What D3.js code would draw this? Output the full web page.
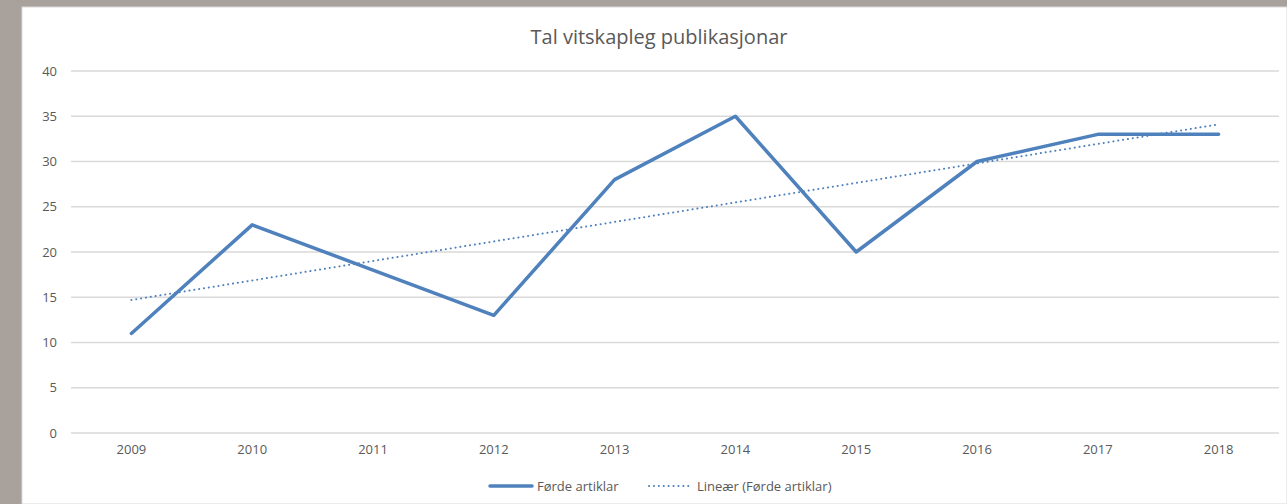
<!DOCTYPE html>
<html>
<head>
<meta charset="utf-8">
<script src="https://cdn.jsdelivr.net/npm/d3@7"></script>
<style>
  html, body { margin: 0; padding: 0; background: #a9a19c; }
  #chart { position: absolute; left: 0; top: 0; }
</style>
</head>
<body>
<div id="chart"></div>
<script>
const years = ["2009", "2010", "2011", "2012", "2013", "2014", "2015", "2016", "2017", "2018"];
const articles = [11, 23, 18, 13, 28, 35, 20, 30, 33, 33];
// trend line end values
const trendYears = ["2009", "2018"];
const trendValues = [14.7, 34.1];
const yTicks = [0, 5, 10, 15, 20, 25, 30, 35, 40];

const width = 1287, height = 504;
const margin = {top: 71, right: 8, bottom: 71, left: 71};
const innerWidth = width - margin.left - margin.right;
const innerHeight = height - margin.top - margin.bottom;
const blue = "#4f81bd";
const font = "'Open Sans', 'Liberation Sans', sans-serif";

const svg = d3.select("#chart").append("svg")
    .attr("width", width)
    .attr("height", height);

// white chart area inside the grey frame
svg.append("rect")
    .attr("x", 22).attr("y", 7)
    .attr("width", width - 22).attr("height", height - 7)
    .attr("fill", "#fff")
    .attr("stroke", "#d9d9d9");

const g = svg.append("g")
    .attr("transform", `translate(${margin.left},${margin.top})`);

const x = d3.scaleBand()
    .domain(years)
    .range([0, innerWidth]);

const y = d3.scaleLinear()
    .domain([0, 40])
    .range([innerHeight, 0]);

const cx = d => x(d) + x.bandwidth() / 2;

// gridlines
g.append("g")
    .selectAll("line")
    .data(yTicks)
    .join("line")
    .attr("x1", 0)
    .attr("x2", innerWidth)
    .attr("y1", d => y(d))
    .attr("y2", d => y(d))
    .attr("stroke", "#d9d9d9")
    .attr("stroke-width", 1.3);

const styleTicks = s => s.selectAll("text")
    .attr("font-family", font)
    .attr("font-size", 13)
    .attr("fill", "#595959");

const yAxis = d3.axisLeft(y).tickValues(yTicks).tickSize(0).tickPadding(14);
g.append("g")
    .call(yAxis)
    .call(s => s.select(".domain").remove())
    .call(styleTicks);

const xAxis = d3.axisBottom(x).tickSize(0).tickPadding(12);
g.append("g")
    .attr("transform", `translate(0,${innerHeight})`)
    .call(xAxis)
    .call(s => s.select(".domain").remove())
    .call(styleTicks);

// trend line
g.append("path")
    .datum(trendYears.map((d, i) => [d, trendValues[i]]))
    .attr("fill", "none")
    .attr("stroke", blue)
    .attr("stroke-width", 2)
    .attr("stroke-linecap", "round")
    .attr("stroke-dasharray", "0.1 4.8")
    .attr("d", d3.line().x(d => cx(d[0])).y(d => y(d[1])));

// main line
g.append("path")
    .datum(years.map((d, i) => [d, articles[i]]))
    .attr("fill", "none")
    .attr("stroke", blue)
    .attr("stroke-width", 3.5)
    .attr("stroke-linejoin", "round")
    .attr("stroke-linecap", "round")
    .attr("d", d3.line().x(d => cx(d[0])).y(d => y(d[1])));

// title
svg.append("text")
    .attr("x", 659)
    .attr("y", 44)
    .attr("text-anchor", "middle")
    .attr("font-family", font)
    .attr("font-size", 20)
    .attr("fill", "#595959")
    .text("Tal vitskapleg publikasjonar");

// legend
const legend = svg.append("g").attr("transform", "translate(0,486)");
legend.append("line")
    .attr("x1", 490).attr("x2", 532)
    .attr("stroke", blue).attr("stroke-width", 3.5).attr("stroke-linecap", "round");
legend.append("text")
    .attr("x", 537).attr("y", 5)
    .attr("font-family", font).attr("font-size", 13).attr("fill", "#595959")
    .text("Førde artiklar");
legend.append("line")
    .attr("x1", 649).attr("x2", 690)
    .attr("stroke", blue).attr("stroke-width", 2).attr("stroke-linecap", "round")
    .attr("stroke-dasharray", "0.1 4.8");
legend.append("text")
    .attr("x", 697).attr("y", 5)
    .attr("font-family", font).attr("font-size", 13).attr("fill", "#595959")
    .text("Lineær (Førde artiklar)");
</script>
</body>
</html>
